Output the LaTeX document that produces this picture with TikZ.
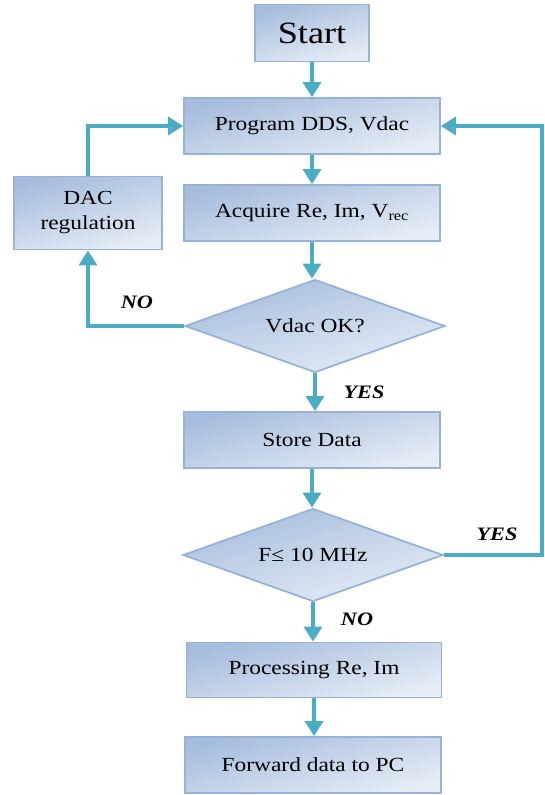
\documentclass[tikz,border=0pt]{standalone}
\usepackage{fontspec}
\setmainfont[FakeStretch=1.17]{Liberation Serif}
\usepackage{xcolor}
\usetikzlibrary{shapes.geometric,arrows.meta}
\definecolor{flowcol}{HTML}{4BACC6}
\definecolor{boxline}{HTML}{95B3D7}
\definecolor{boxdark}{HTML}{A6BDDD}
\definecolor{boxlight}{HTML}{E6EDF6}
\tikzset{
  box/.style={draw=boxline,line width=1.8pt,top color=boxdark,bottom color=boxlight,shading angle=15,
    minimum width=256pt,minimum height=56pt,inner sep=0pt,font=\fontsize{20}{25}\selectfont,align=center},
  decide/.style={box,diamond,minimum width=260pt,minimum height=93pt,aspect=2.8},
  flow/.style={draw=flowcol,line width=3.4pt,-{Triangle[length=15pt,width=18pt]}},
  answer/.style={font=\fontsize{19}{20}\selectfont\bfseries\itshape}
}

\begin{document}
\begin{tikzpicture}[x=1pt,y=-1pt]
  \useasboundingbox (0,0) rectangle (544,795);
  \node[box,minimum width=114pt,minimum height=57pt,font=\fontsize{31}{32}\selectfont] (start) at (312,33) {Start};
  \node[box] (prog) at (312,126) {Program DDS, Vdac};
  \node[box] (acq) at (312,213) {Acquire Re, Im, V\textsubscript{rec}};
  \node[box,minimum width=148pt,minimum height=73pt] (dac) at (88,213) {DAC\\regulation};
  \node[decide] (vok) at (315,326) {Vdac OK?};
  \node[box] (store) at (312,440) {Store Data};
  \node[decide] (fmax) at (313,555) {F≤ 10 MHz};
  \node[box,minimum width=255pt,minimum height=55pt] (proc) at (314,670) {Processing Re, Im};
  \node[box] (fwd) at (313,765) {Forward data to PC};
  \coordinate (turn) at (542,555);

  \draw[flow] (start) -- (start |- prog.north);
  \draw[flow] (prog) -- (prog |- acq.north);
  \draw[flow] (acq) -- (acq |- vok.north);
  \draw[flow] (vok) -- (vok |- store.north);
  \draw[flow] (store) -- (store |- fmax.north);
  \draw[flow] (fmax) -- (fmax |- proc.north);
  \draw[flow] (proc) -- (proc |- fwd.north);
  \draw[flow] (vok.west) -| (dac.south);
  \draw[flow] (dac.north) |- (prog.west);
  \draw[flow] (fmax.east) -- (turn) |- (prog.east);

  \node[answer] (no1) at (137,302) {NO};
  \node[answer] (yes1) at (364,392) {YES};
  \node[answer] (yes2) at (497,534) {YES};
  \node[answer] (no2) at (357,619) {NO};
\end{tikzpicture}
\end{document}
